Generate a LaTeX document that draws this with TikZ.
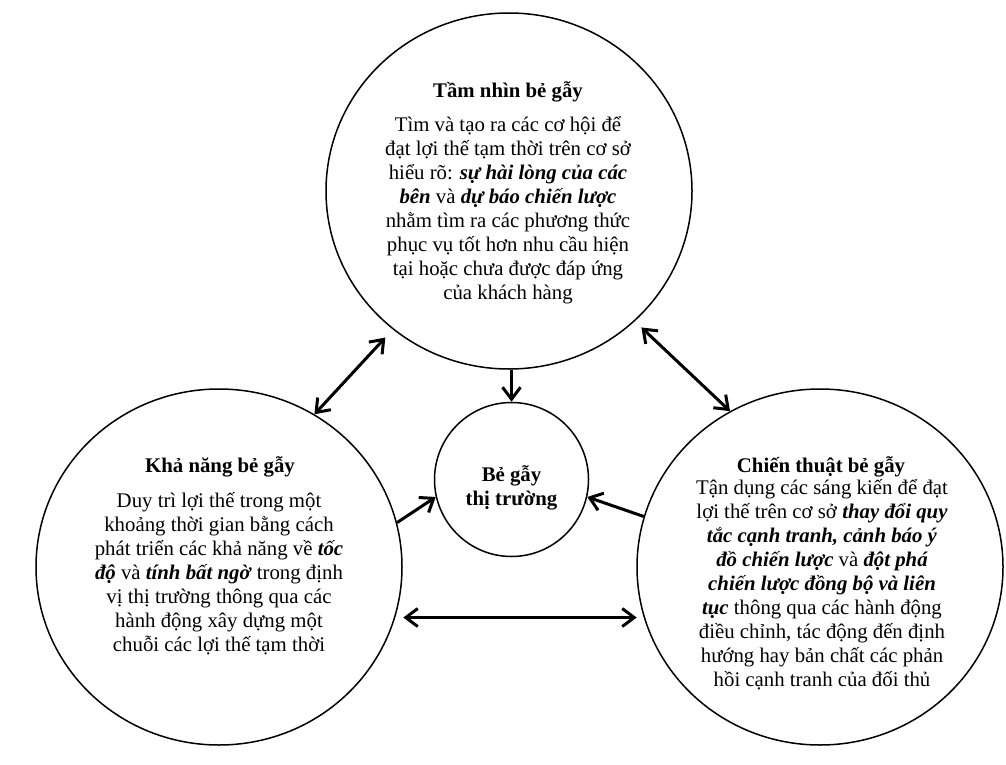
\documentclass[tikz,border=0pt]{standalone}
\usepackage{fontspec}
\setmainfont{Liberation Serif}
\usetikzlibrary{arrows.meta,shapes.geometric}
\newcommand\bitx[1]{\textbf{\textit{#1}}}
\begin{document}
\begin{tikzpicture}[x=1pt,y=-1pt,
  bubble/.style={draw,ellipse,line width=1.5pt,inner sep=0pt,minimum width=366pt,minimum height=356pt},
  hub/.style={draw,circle,line width=1.5pt,inner sep=0pt,minimum size=154pt},
  txt/.style={align=center,font=\fontsize{20.8}{24}\selectfont,inner sep=0pt},
  ttl/.style={align=center,font=\fontsize{20.8}{24}\selectfont\bfseries,inner sep=0pt},
  tip/.tip={Straight Barb[length=12pt,width=18pt]},
  arr/.style={line width=3pt,-tip},
  dbl/.style={line width=3pt,tip-tip}]
\useasboundingbox[fill=white] (0,0) rectangle (1006,765);

\node[bubble] (T) at (509,191) {};
\node[bubble] (L) at (219,567) {};
\node[bubble] (R) at (820,567) {};
\node[hub] (C) at (511.5,479.5) {};

\node[ttl] (Tt) at (508,92) {Tầm nhìn bẻ gẫy};
\node[txt] (Tb) at (508,210) {Tìm và tạo ra các cơ hội để\\
đạt lợi thế tạm thời trên cơ sở\\
hiểu rõ: \bitx{sự hài lòng của các}\\
\bitx{bên} và \bitx{dự báo chiến lược}\\
nhằm tìm ra các phương thức\\
phục vụ tốt hơn nhu cầu hiện\\
tại hoặc chưa được đáp ứng\\
của khách hàng};

\node[ttl] (Lt) at (220,467) {Khả năng bẻ gẫy};
\node[txt] (Lb) at (219,574) {Duy trì lợi thế trong một\\
khoảng thời gian bằng cách\\
phát triển các khả năng về \bitx{tốc}\\
\bitx{độ} và \bitx{tính bất ngờ} trong định\\
vị thị trường thông qua các\\
hành động xây dựng một\\
chuỗi các lợi thế tạm thời};

\node[ttl] (Rt) at (821,467) {Chiến thuật bẻ gẫy};
\node[txt] (Rb) at (822,585) {Tận dụng các sáng kiến để đạt\\
lợi thế trên cơ sở \bitx{thay đổi quy}\\
\bitx{tắc cạnh tranh, cảnh báo ý}\\
\bitx{đồ chiến lược} và \bitx{đột phá}\\
\bitx{chiến lược đồng bộ và liên}\\
\bitx{tục} thông qua các hành động\\
điều chỉnh, tác động đến định\\
hướng hay bản chất các phản\\
hồi cạnh tranh của đối thủ};

\node[ttl] (Ct) at (511.5,488) {Bẻ gẫy\\thị trường};

\draw[dbl,shorten >=11pt] (L.58) -- (T.230);
\draw[dbl,shorten <=9pt] (T.314) -- (R.120);
\draw[arr] (C.north |- T.south) -- (C.north);
\draw[arr] (L.14) -- (C.193);
\draw[arr] (R.164) -- (C.347);
\draw[dbl,shorten <=8pt,shorten >=7pt] (L.-16.5) -- (R.196.5);
\end{tikzpicture}
\end{document}
